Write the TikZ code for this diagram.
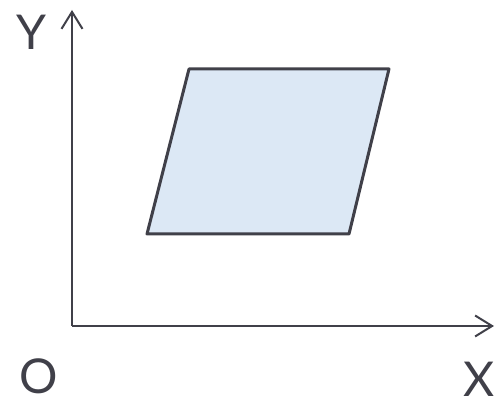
\documentclass[tikz,border=0pt]{standalone}
\usepackage{fontspec}
\setmainfont{Lato}
\usepackage{tikz}
\usetikzlibrary{arrows.meta,positioning}
\definecolor{ink}{HTML}{404049}
\definecolor{paper}{HTML}{DCE8F5}
\begin{document}
\begin{tikzpicture}[x=1pt,y=1pt,line join=round]
  \useasboundingbox (0,0) rectangle (496,401);
  \coordinate (O) at (72,75);
  \coordinate (Yend) at (72,391);
  \coordinate (Xend) at (494,75);
  \coordinate (A) at (147,167);
  \coordinate (B) at (349,167);
  \coordinate (C) at (389,332);
  \coordinate (D) at (189,332);
  \draw[ink,line width=2pt,-{Straight Barb[length=17pt,width=21pt]}] (O) -- (Yend);
  \draw[ink,line width=2pt,-{Straight Barb[length=17pt,width=21pt]}] (O) -- (Xend);
  \filldraw[fill=paper,draw=ink,line width=3pt] (A) -- (B) -- (C) -- (D) -- cycle;
  \node[ink,anchor=base,inner sep=0pt,font=\fontsize{48}{48}\selectfont] (ylab) at (31,351) {Y};
  \node[ink,anchor=base,inner sep=0pt,font=\fontsize{48}{48}\selectfont] (olab) at (39,7) {O};
  \node[ink,anchor=base,inner sep=0pt,font=\fontsize{48}{48}\selectfont] (xlab) at (479,4) {X};
\end{tikzpicture}
\end{document}
